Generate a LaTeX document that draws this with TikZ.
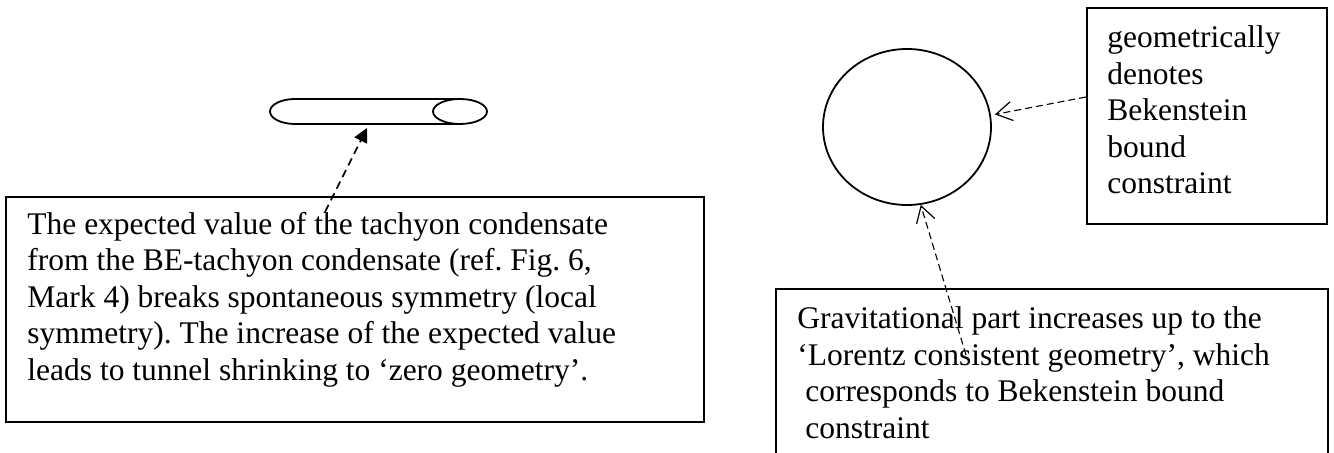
\documentclass[tikz,border=0pt]{standalone}
\usepackage{fontspec}
\setmainfont{Liberation Serif}
\usetikzlibrary{arrows.meta,shapes.geometric}

\tikzset{
    frame/.style={draw, line width=0.8pt, inner sep=0pt, anchor=north west},
    note/.style={align=left, anchor=north west, inner sep=0pt,
        font=\fontsize{15.75pt}{18.25pt}\selectfont\frenchspacing},
    outline/.style={line width=0.9pt},
    pointer/.style={line width=0.55pt, dash pattern=on 3.5pt off 2pt,
        -{Straight Barb[length=8pt,width=9.5pt,line width=0.6pt]}},
    bigpointer/.style={line width=0.8pt, dash pattern=on 4pt off 2.5pt,
        -{Triangle[length=7pt,width=7pt]}}
}

\begin{document}
\begin{tikzpicture}[x=0.5pt, y=-0.5pt]
            \useasboundingbox (0,0) rectangle (1334,453);
            \clip (0,0) rectangle (1334,453);

            % frames
            \node[frame, minimum width=349pt, minimum height=112.5pt] (condbox) at (5,196) {};
            \node[frame, minimum width=120pt, minimum height=108pt] (bndbox) at (1086,7) {};
            \node[frame, minimum width=276pt, minimum height=100pt] (gravbox) at (775,288) {};

            % tunnel
            \draw[outline] (295,99) arc[start angle=90, end angle=270, x radius=12.5pt, y radius=6.25pt] -- (460,124);
            \draw[outline] (295,99) -- (460,99);
            \draw[outline] (460,111.5) ellipse[x radius=13.5pt, y radius=6.25pt];

            % sphere
            \node[draw, outline, ellipse, inner sep=0pt, minimum width=84pt, minimum height=78pt] (ring) at (907,127) {};

            \node[note] (condtext) at (27,211.5) {The expected value of the tachyon condensate\\
                from the BE-tachyon condensate (ref. Fig. 6,\\
                Mark 4) breaks spontaneous symmetry (local\\
                symmetry). The increase of the expected value\\
                leads to tunnel shrinking to `zero geometry'.};
            \node[note] (bndtext) at (1107,25.5) {geometrically\\denotes\\Bekenstein\\bound\\constraint};
            \node[note] (gravtext) at (797,306.5) {Gravitational part increases up to the\\
                `Lorentz consistent geometry', which\\
                \hspace*{0.25em}corresponds to Bekenstein bound\\
                \hspace*{0.25em}constraint};

            \coordinate (tubetip) at (367,128);
            \coordinate (condsrc) at (325,212);
            \coordinate (bndsrc) at (1086,97);
            \coordinate (gravsrc) at (966,355);

            \draw[bigpointer] (condsrc) -- (tubetip);
            \draw[pointer, shorten >=2pt] (bndsrc) -- (ring.8);
            \draw[pointer] (gravsrc) -- (ring.-80);
\end{tikzpicture}
\end{document}
